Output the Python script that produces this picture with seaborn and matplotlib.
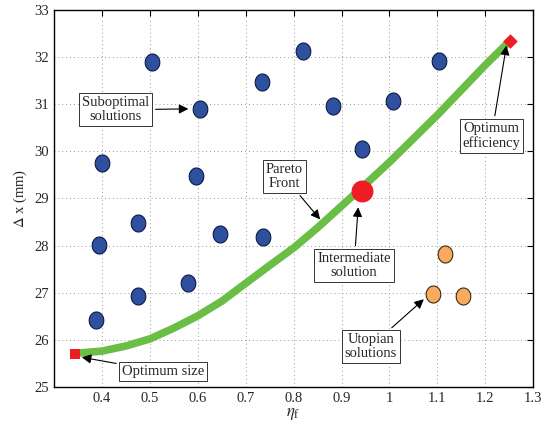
import numpy as np
import pandas as pd
import seaborn as sns
from matplotlib import pyplot as plt
from matplotlib.path import Path

# suboptimal (blue) solutions
sub_eta = [0.504, 0.605, 0.734, 0.820, 0.883, 1.008, 1.104, 0.942, 0.401,
           0.596, 0.394, 0.476, 0.647, 0.737, 0.476, 0.579, 0.388]
sub_dx = [31.89, 30.90, 31.46, 32.13, 30.97, 31.06, 31.92, 30.05, 29.76,
          29.47, 28.02, 28.47, 28.25, 28.18, 26.92, 27.20, 26.41]

# utopian (orange) solutions
uto_eta = [1.116, 1.090, 1.153]
uto_dx = [27.82, 26.97, 26.94]

# pareto front
front_eta = [0.344, 0.352, 0.40, 0.45, 0.50, 0.55, 0.60, 0.65, 0.70, 0.75,
             0.80, 0.85, 0.90, 0.95, 1.00, 1.05, 1.10, 1.15, 1.20, 1.252]
front_dx = [25.70, 25.72, 25.76, 25.87, 26.02, 26.25, 26.51, 26.82, 27.20, 27.58,
            27.95, 28.38, 28.84, 29.30, 29.77, 30.27, 30.77, 31.30, 31.83, 32.35]

# special points
size_pt = (0.344, 25.70)
mid_pt = (0.942, 29.15)
eff_pt = (1.252, 32.35)

sns.set_style('white')
plt.rcParams['font.family'] = ['Liberation Serif', 'DejaVu Serif']
plt.rcParams['mathtext.fontset'] = 'stix'

fig = plt.figure(figsize=(5.52, 4.29), dpi=100)
ax = fig.add_axes([0.098, 0.098, 0.868, 0.879])

# slightly tall ellipse marker
t = np.linspace(0, 2 * np.pi, 60)
ell = Path(np.column_stack([0.86 * np.cos(t), np.sin(t)]))

df_front = pd.DataFrame({'eta': front_eta, 'dx': front_dx})
sns.lineplot(data=df_front, x='eta', y='dx', color='#6abd45', lw=5.5,
             ax=ax, zorder=3, sort=True, solid_capstyle='butt',
             solid_joinstyle='round')

df_sub = pd.DataFrame({'eta': sub_eta, 'dx': sub_dx})
sns.scatterplot(data=df_sub, x='eta', y='dx', marker=ell, s=150,
                color='#2f4f9f', edgecolor='#0d1b45', linewidth=0.8,
                ax=ax, zorder=4)

df_uto = pd.DataFrame({'eta': uto_eta, 'dx': uto_dx})
sns.scatterplot(data=df_uto, x='eta', y='dx', marker=ell, s=150,
                color='#f9aa5f', edgecolor='#3a2a10', linewidth=0.8,
                ax=ax, zorder=4)

ax.scatter([size_pt[0]], [size_pt[1]], marker='s', s=60, color='#ee1d25',
           zorder=5, linewidths=0)
ax.scatter([eff_pt[0]], [eff_pt[1]], marker='D', s=55, color='#ee1d25',
           zorder=5, linewidths=0)
ax.scatter([mid_pt[0]], [mid_pt[1]], marker='o', s=250, color='#ee1d25',
           zorder=5, linewidths=0)

box = dict(boxstyle='square,pad=0.2', fc='white', ec='#333333', lw=0.7)
arr = dict(arrowstyle='-|>', color='black', lw=0.8, mutation_scale=14)

notes = [
    ('Suboptimal\nsolutions', (0.429, 30.88), (0.586, 30.90)),
    ('Pareto\nFront', (0.780, 29.46), (0.859, 28.51)),
    ('Intermediate\nsolution', (0.926, 27.58), (0.935, 28.87)),
    ('Optimum\nefficiency', (1.213, 30.33), (1.245, 32.30)),
    ('Optimum size', (0.528, 25.32), (0.352, 25.64)),
    ('Utopian\nsolutions', (0.961, 25.86), (1.076, 26.90)),
]
for txt, xy_txt, xy_pt in notes:
    ax.annotate(txt, xy=xy_pt, xytext=xy_txt, ha='center', va='center',
                fontsize=10.5, bbox=box, arrowprops=arr, zorder=6,
                linespacing=1.1)

ax.set_xlim(0.3, 1.3)
ax.set_ylim(25, 33)
ax.set_xticks([0.4, 0.5, 0.6, 0.7, 0.8, 0.9, 1, 1.1, 1.2, 1.3])
ax.set_xticklabels(['0.4', '0.5', '0.6', '0.7', '0.8', '0.9', '1', '1.1', '1.2', '1.3'])
ax.set_yticks(range(25, 34))
ax.grid(True, ls=(0, (1, 3)), color='#999999', lw=0.7)
ax.tick_params(direction='in', top=True, right=True, length=4, labelsize=10.5,
               color='black', width=0.8)
for sp in ax.spines.values():
    sp.set_color('black')
    sp.set_linewidth(1.0)
ax.set_xlabel(r'$\eta_{\mathrm{f}}$', fontsize=12, labelpad=1)
ax.set_ylabel(r'$\Delta$ x (mm)', fontsize=10.5, labelpad=4)

fig.savefig('out.png', dpi=100)
